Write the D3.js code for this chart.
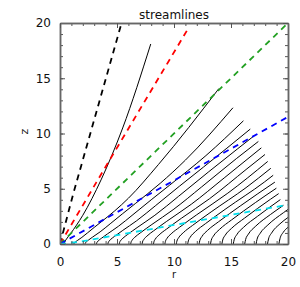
<!DOCTYPE html>
<html>
<head>
<meta charset="utf-8">
<script src="https://cdn.jsdelivr.net/npm/d3@7"></script>
<style>
  body { margin: 0; background: #fff; }
  svg text { font-family: "DejaVu Sans", sans-serif; fill: #111; }
</style>
</head>
<body>
<div id="chart"></div>
<script>
// axis ticks
const majorTicks = [0, 5, 10, 15, 20];
const minorTicks = [0, 1, 2, 3, 4, 5, 6, 7, 8, 9, 10, 11, 12, 13, 14, 15, 16, 17, 18, 19, 20];

// dashed reference lines [r, z]
const refColors = ["#000000", "#ff0000", "#22a022", "#0000ff", "#00e0ee"];
const refLines = [
  [[0, 0], [1.15, 4.5], [5.4, 20]],
  [[0, 0], [3.2, 5.6], [11.3, 19.6]],
  [[0, 0], [20, 20]],
  [[0, 0], [20, 11.5]],
  [[0, 0], [1.7, 0.2], [20, 3.55]]
];

// solid streamlines [r, z]
const streamlines = [
  [[0.3, 0], [0.5, 0.35], [0.9, 0.9], [2.0, 2.6], [3.6, 5.8], [5.5, 10.5], [7.96, 18.1]],
  [[1.2, 0], [1.272, 0.12], [1.368, 0.198], [1.56, 0.342], [1.92, 0.6], [2.4, 0.996], [3.0, 1.5], [3.6, 1.992], [4.8, 3.0], [6.0, 4.14], [8.64, 7.2], [13.94, 14.07]],
  [[2.2, 0], [2.211, 0.055], [2.244, 0.121], [2.332, 0.22], [2.508, 0.363], [2.86, 0.627], [3.52, 1.1], [4.4, 1.826], [5.5, 2.75], [6.6, 3.652], [8.8, 5.5], [11.0, 7.59], [15.17, 12.33]],
  [[3.2, 0], [3.216, 0.08], [3.264, 0.176], [3.392, 0.32], [3.648, 0.528], [4.16, 0.912], [5.12, 1.6], [6.4, 2.656], [8.0, 4.0], [9.6, 5.312], [12.8, 8.0], [16.09, 11.15]],
  [[4.2, 0], [4.221, 0.105], [4.284, 0.231], [4.452, 0.42], [4.788, 0.693], [5.46, 1.197], [6.72, 2.1], [8.4, 3.486], [10.5, 5.25], [12.6, 6.972], [16.69, 10.4]],
  [[5.2, 0], [5.226, 0.13], [5.304, 0.286], [5.512, 0.52], [5.928, 0.858], [6.76, 1.482], [8.32, 2.6], [10.4, 4.316], [13.0, 6.5], [15.6, 8.632], [17.1, 9.85]],
  [[6.2, 0], [6.231, 0.155], [6.324, 0.341], [6.572, 0.62], [7.068, 1.023], [8.06, 1.767], [9.92, 3.1], [12.4, 5.146], [15.5, 7.75], [17.4, 9.28]],
  [[7.2, 0], [7.236, 0.18], [7.344, 0.396], [7.632, 0.72], [8.208, 1.188], [9.36, 2.052], [11.52, 3.6], [14.4, 5.976], [17.66, 8.7]],
  [[8.2, 0], [8.241, 0.205], [8.364, 0.451], [8.692, 0.82], [9.348, 1.353], [10.66, 2.337], [13.12, 4.1], [16.4, 6.806], [17.98, 8.1]],
  [[9.2, 0], [9.246, 0.23], [9.384, 0.506], [9.752, 0.92], [10.488, 1.518], [11.96, 2.622], [14.72, 4.6], [18.22, 7.47]],
  [[10.2, 0], [10.251, 0.255], [10.404, 0.561], [10.812, 1.02], [11.628, 1.683], [13.26, 2.907], [16.32, 5.1], [18.49, 6.85]],
  [[11.2, 0], [11.256, 0.28], [11.424, 0.616], [11.872, 1.12], [12.768, 1.848], [14.56, 3.192], [17.92, 5.6], [18.7, 6.22]],
  [[12.2, 0], [12.261, 0.305], [12.444, 0.671], [12.932, 1.22], [13.908, 2.013], [15.86, 3.477], [18.85, 5.6]],
  [[13.2, 0], [13.266, 0.33], [13.464, 0.726], [13.992, 1.32], [15.048, 2.178], [17.16, 3.762], [18.98, 5.05]],
  [[14.2, 0], [14.271, 0.355], [14.484, 0.781], [15.052, 1.42], [16.188, 2.343], [18.46, 4.047], [19.18, 4.56]],
  [[15.2, 0], [15.276, 0.38], [15.504, 0.836], [16.112, 1.52], [17.328, 2.508], [19.33, 4.02]],
  [[16.2, 0], [16.281, 0.405], [16.524, 0.891], [17.172, 1.62], [18.468, 2.673], [19.6, 3.5]],
  [[17.2, 0], [17.286, 0.43], [17.544, 0.946], [18.232, 1.72], [19.608, 2.838], [20, 3.13]],
  [[18.2, 0], [18.291, 0.455], [18.564, 1.001], [19.292, 1.82], [20, 2.4]],
  [[19.2, 0], [19.296, 0.48], [19.584, 1.056], [20, 1.51]]
];

const margin = { top: 23, right: 12, bottom: 43, left: 60 },
  width = 300 - margin.left - margin.right,
  height = 287 - margin.top - margin.bottom;

const svg = d3.select("#chart")
  .append("svg")
  .attr("width", 300)
  .attr("height", 287)
  .append("g")
  .attr("transform", `translate(${margin.left},${margin.top})`);

const x = d3.scaleLinear().domain([0, 20]).range([0, width]);
const y = d3.scaleLinear().domain([0, 20]).range([height, 0]);

svg.append("clipPath").attr("id", "plot-clip")
  .append("rect").attr("width", width).attr("height", height);

const line = d3.line()
  .x(d => x(d[0]))
  .y(d => y(d[1]))
  .curve(d3.curveMonotoneX);

const plot = svg.append("g").attr("clip-path", "url(#plot-clip)");

// solid streamlines
streamlines.forEach(pts => {
  plot.append("path")
    .datum(pts)
    .attr("fill", "none")
    .attr("stroke", "#000")
    .attr("stroke-width", 1)
    .attr("d", line);
});

// dashed reference lines
refLines.forEach((pts, i) => {
  plot.append("path")
    .datum(pts)
    .attr("fill", "none")
    .attr("stroke", refColors[i])
    .attr("stroke-width", 1.8)
    .attr("stroke-dasharray", "6,5")
    .attr("d", d3.line().x(d => x(d[0])).y(d => y(d[1])));
});

// axes, ticks pointing inward
function styleAxis(g) {
  g.selectAll("path.domain").attr("stroke", "#666").attr("stroke-width", 1.5);
  g.selectAll("g.tick line").attr("stroke", "#555");
  g.selectAll(".tick text").attr("font-size", 12).attr("font-family", "DejaVu Sans").attr("fill", "#111");
}

svg.append("g").attr("transform", `translate(0,${height})`)
  .call(d3.axisBottom(x).tickValues(minorTicks).tickSize(-3).tickSizeOuter(0).tickFormat(""))
  .call(styleAxis);
svg.append("g").attr("transform", `translate(0,${height})`)
  .call(d3.axisBottom(x).tickValues(majorTicks).tickSize(-5).tickSizeOuter(0).tickPadding(13.5))
  .call(styleAxis);

svg.append("g")
  .call(d3.axisLeft(y).tickValues(minorTicks).tickSize(-3).tickSizeOuter(0).tickFormat(""))
  .call(styleAxis);
svg.append("g")
  .call(d3.axisLeft(y).tickValues(majorTicks).tickSize(-5).tickSizeOuter(0).tickPadding(9))
  .call(styleAxis);

svg.append("g")
  .call(d3.axisTop(x).tickValues(minorTicks).tickSize(-3).tickSizeOuter(0).tickFormat(""))
  .call(styleAxis);
svg.append("g")
  .call(d3.axisTop(x).tickValues(majorTicks).tickSize(-5).tickSizeOuter(0).tickFormat(""))
  .call(styleAxis);

svg.append("g").attr("transform", `translate(${width},0)`)
  .call(d3.axisRight(y).tickValues(minorTicks).tickSize(-3).tickSizeOuter(0).tickFormat(""))
  .call(styleAxis);
svg.append("g").attr("transform", `translate(${width},0)`)
  .call(d3.axisRight(y).tickValues(majorTicks).tickSize(-5).tickSizeOuter(0).tickFormat(""))
  .call(styleAxis);

// title and axis labels
svg.append("text")
  .attr("x", width / 2)
  .attr("y", -4.5)
  .attr("text-anchor", "middle")
  .attr("font-size", 12)
  .text("streamlines");

svg.append("text")
  .attr("x", width / 2)
  .attr("y", height + 34)
  .attr("text-anchor", "middle")
  .attr("font-size", 10)
  .text("r");

svg.append("text")
  .attr("transform", `translate(${-32},${height / 2 - 2}) rotate(-90)`)
  .attr("text-anchor", "middle")
  .attr("font-size", 11)
  .text("z");
</script>
</body>
</html>
